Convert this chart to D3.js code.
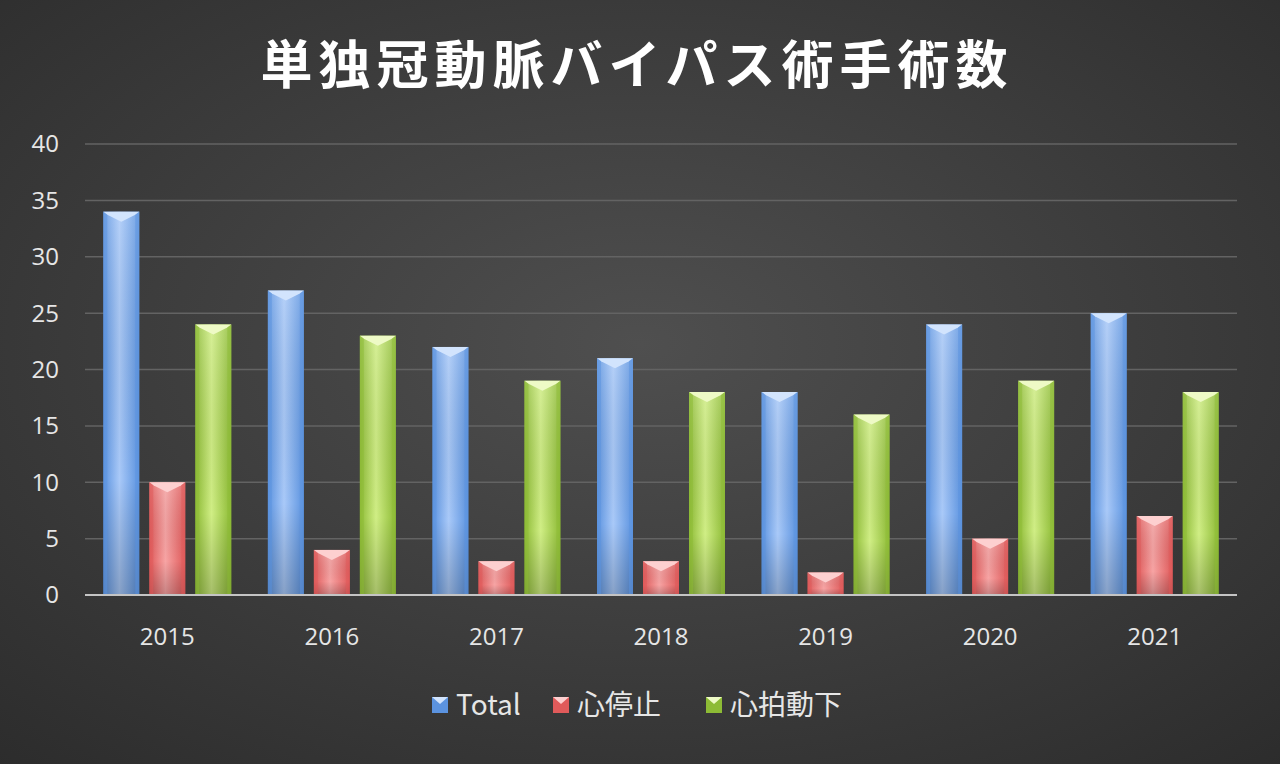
<!DOCTYPE html>
<html><head><meta charset="utf-8">
<script src="https://cdn.jsdelivr.net/npm/d3@7"></script>
<style>body{margin:0;background:#333}svg{display:block}</style>
</head><body>
<script>
const years = ["2015","2016","2017","2018","2019","2020","2021"]
const seriesNames = ["Total","心停止","心拍動下"]
const totalVals = [34,27,22,21,18,24,25]
const arrestVals = [10,4,3,3,2,5,7]
const beatingVals = [24,23,19,18,16,19,18]
const yTicks = [0,5,10,15,20,25,30,35,40]

const W = 1280, H = 764
const margin = {top: 144, right: 43, bottom: 169, left: 85}
const colors = [
    {dark:"#5b93e0", mid:"#a9c9f8", light:"#d2e4fd"},
    {dark:"#e05a5a", mid:"#f7a4a4", light:"#fdd0d0"},
    {dark:"#8dbb35", mid:"#d0ee85", light:"#eefac6"}
]

const svg = d3.select("body").append("svg").attr("width", W).attr("height", H)
const defs = svg.append("defs")
const bg = defs.append("radialGradient").attr("id","bg").attr("cx","50%").attr("cy","45%").attr("r","75%")
bg.append("stop").attr("offset","0%").attr("stop-color","#4f4f4f")
bg.append("stop").attr("offset","100%").attr("stop-color","#2c2c2c")
svg.append("rect").attr("width",W).attr("height",H).attr("fill","url(#bg)")

colors.forEach((c,i) => {
    const g = defs.append("linearGradient").attr("id","bar"+i).attr("x1","0").attr("x2","1")
    g.append("stop").attr("offset","0%").attr("stop-color",c.dark)
    g.append("stop").attr("offset","45%").attr("stop-color",c.mid)
    g.append("stop").attr("offset","100%").attr("stop-color",c.dark)
    const v = defs.append("linearGradient").attr("id","shade"+i).attr("x1","0").attr("x2","0").attr("y1","0").attr("y2","1")
    v.append("stop").attr("offset","0%").attr("stop-color","#fff").attr("stop-opacity",0.15)
    v.append("stop").attr("offset","70%").attr("stop-color","#000").attr("stop-opacity",0)
    v.append("stop").attr("offset","100%").attr("stop-color","#000").attr("stop-opacity",0.2)
})

const width = W - margin.left - margin.right
const height = H - margin.top - margin.bottom
const g = svg.append("g").attr("transform", `translate(${margin.left},${margin.top})`)

const x = d3.scaleBand().domain(years).range([0, width]).paddingInner(0).paddingOuter(0)
const y = d3.scaleLinear().domain([0, 40]).range([height, 0])
const barW = 36, step = 46

// gridlines
g.selectAll(".grid").data(yTicks.slice(1)).join("line")
    .attr("x1",0).attr("x2",width).attr("y1",d=>y(d)).attr("y2",d=>y(d))
    .attr("stroke","#636363").attr("stroke-width",1.5)

// y labels
g.selectAll(".yl").data(yTicks).join("text")
    .attr("x",-26).attr("y",d=>y(d)).attr("dy","0.35em").attr("text-anchor","end")
    .attr("fill","#e6e6e6").attr("font-family","'Open Sans','Noto Sans',sans-serif").attr("font-size",24)
    .text(d=>d)

const allSeries = [totalVals, arrestVals, beatingVals]
allSeries.forEach((vals, si) => {
    const data = years.map((yr,i) => ({yr, v: vals[i]}))
    const bars = g.selectAll(".s"+si).data(data).join("g")
        .attr("transform", d => `translate(${x(d.yr) + x.bandwidth()/2 + (si-1)*step - barW/2},0)`)
    bars.append("rect").attr("x",0).attr("y",d=>y(d.v)).attr("width",barW).attr("height",d=>height-y(d.v))
        .attr("fill","url(#bar"+si+")")
    bars.append("rect").attr("x",0).attr("y",d=>y(d.v)).attr("width",barW).attr("height",d=>height-y(d.v))
        .attr("fill","url(#shade"+si+")")
    // bevel chevron at top
    bars.append("path")
        .attr("d", d => `M0,${y(d.v)}L${barW},${y(d.v)}L${barW-4},${y(d.v)+3}L${barW/2},${y(d.v)+10}L4,${y(d.v)+3}Z`)
        .attr("fill", colors[si].light)
    bars.append("path")
        .attr("d", d => `M0,${y(d.v)}L4,${y(d.v)+3}L4,${height}L0,${height}Z`)
        .attr("fill", colors[si].dark).attr("opacity",0.5)
    bars.append("path")
        .attr("d", d => `M${barW},${y(d.v)}L${barW-4},${y(d.v)+3}L${barW-4},${height}L${barW},${height}Z`)
        .attr("fill", colors[si].dark).attr("opacity",0.5)
})

// x axis line
g.append("line").attr("x1",0).attr("x2",width).attr("y1",height).attr("y2",height)
    .attr("stroke","#c4c4c4").attr("stroke-width",2)

g.selectAll(".xl").data(years).join("text")
    .attr("x",d=>x(d)+x.bandwidth()/2).attr("y",height+50).attr("text-anchor","middle")
    .attr("fill","#e6e6e6").attr("font-family","'Open Sans','Noto Sans',sans-serif").attr("font-size",24)
    .text(d=>d)

// title
svg.append("text").attr("x",637).attr("y",84).attr("text-anchor","middle")
    .attr("fill","#ffffff").attr("font-family","'Noto Sans CJK JP',sans-serif").attr("font-weight","bold")
    .attr("font-size",52).attr("letter-spacing",6).text("単独冠動脈バイパス術手術数")

// legend
const legendX = [432, 553, 706]
seriesNames.forEach((n,i) => {
    const lg = svg.append("g").attr("transform",`translate(${legendX[i]},697)`)
    lg.append("rect").attr("x",0).attr("y",0).attr("width",16).attr("height",16).attr("fill",colors[i].dark)
    lg.append("path").attr("d","M0,0L16,0L8,7Z").attr("fill",colors[i].light)
    lg.append("text").attr("x",24).attr("y",8).attr("dy","0.36em").attr("fill","#e6e6e6")
        .attr("font-family","'Noto Sans CJK JP','Open Sans',sans-serif").attr("font-size",28).text(n)
})
</script>
</body></html>
